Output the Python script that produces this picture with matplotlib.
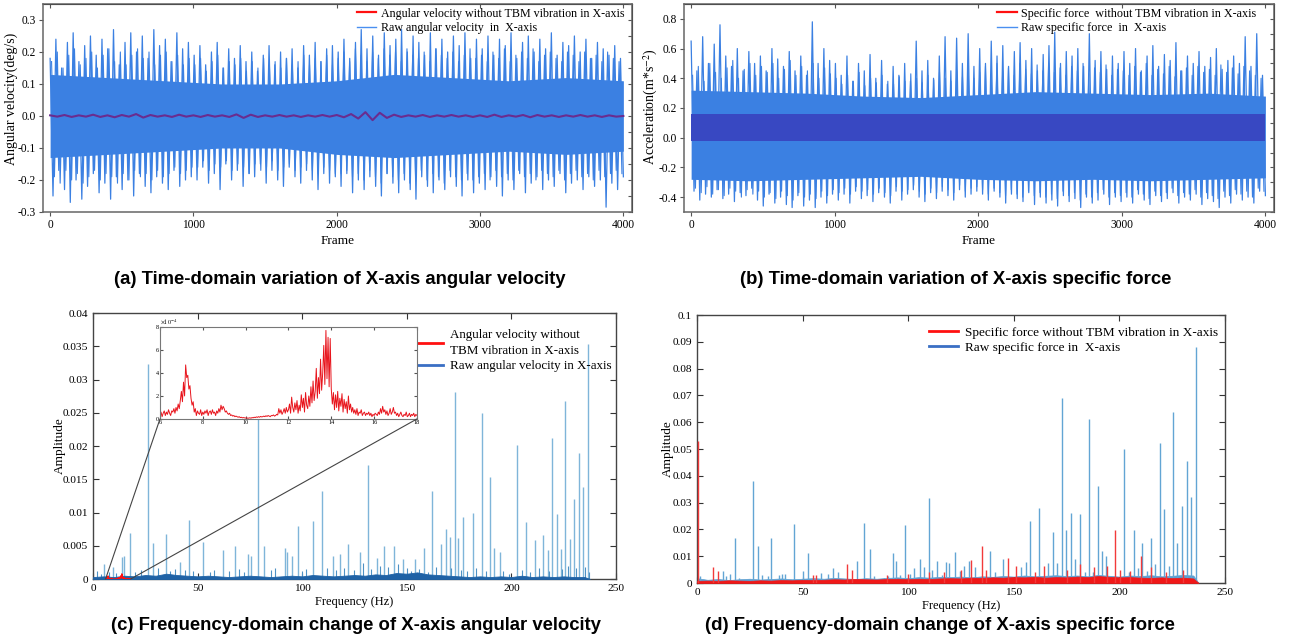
import numpy as np
import matplotlib.pyplot as plt
from matplotlib.lines import Line2D
from matplotlib.patches import ConnectionPatch
from matplotlib.ticker import FuncFormatter, MultipleLocator

plt.rcParams['font.family'] = ['Liberation Serif', 'DejaVu Serif']
plt.rcParams['mathtext.fontset'] = 'stix'
plt.rcParams['axes.unicode_minus'] = False

# ---- (a) angular velocity, time domain (peaks / troughs) ----
peaks_a = [0.18, 0.24, 0.15, 0.23, 0.26, 0.17, 0.22, 0.25, 0.19, 0.24, 0.21, 0.27, 0.16, 0.23, 0.26, 0.20, 0.25, 0.18, 0.27, 0.22, 0.24, 0.17, 0.26, 0.21, 0.23,
           0.19, 0.22, 0.16, 0.20, 0.23, 0.15, 0.21, 0.18, 0.22, 0.17, 0.20, 0.14, 0.19, 0.22, 0.16, 0.20, 0.18, 0.21, 0.15, 0.22, 0.19, 0.23, 0.17, 0.21, 0.22,
           0.20, 0.24, 0.18, 0.23, 0.27, 0.21, 0.25, 0.19, 0.26, 0.22, 0.24, 0.27, 0.20, 0.25, 0.23, 0.19, 0.26, 0.21, 0.24, 0.20, 0.25, 0.22, 0.26, 0.18, 0.24,
           0.21, 0.25, 0.19, 0.24, 0.22, 0.26, 0.18, 0.23, 0.25, 0.20, 0.24, 0.21, 0.26, 0.19, 0.23, 0.22, 0.25, 0.20, 0.24, 0.18, 0.23, 0.21, 0.19, 0.22, 0.18]
troughs_a = [-0.25, -0.17, -0.23, -0.27, -0.20, -0.26, -0.22, -0.18, -0.24, -0.21, -0.26, -0.19, -0.23, -0.20, -0.25, -0.18, -0.22, -0.24, -0.19, -0.21, -0.23, -0.17, -0.22, -0.20, -0.19,
             -0.20, -0.16, -0.21, -0.18, -0.23, -0.15, -0.20, -0.17, -0.22, -0.18, -0.19, -0.15, -0.21, -0.17, -0.20, -0.22, -0.16, -0.19, -0.21, -0.17, -0.20, -0.23, -0.18, -0.21, -0.19,
             -0.22, -0.18, -0.24, -0.20, -0.23, -0.19, -0.22, -0.25, -0.18, -0.21, -0.24, -0.20, -0.23, -0.26, -0.19, -0.22, -0.24, -0.20, -0.23, -0.19, -0.22, -0.25, -0.20, -0.24, -0.21,
             -0.23, -0.19, -0.22, -0.25, -0.20, -0.23, -0.18, -0.24, -0.21, -0.19, -0.23, -0.20, -0.22, -0.18, -0.24, -0.21, -0.20, -0.23, -0.19, -0.22, -0.20, -0.285, -0.21, -0.23, -0.19]
mid_a_hi = [0.17, 0.20, 0.15, 0.19, 0.21, 0.16, 0.18, 0.20, 0.15, 0.19, 0.21, 0.17, 0.20, 0.16, 0.19, 0.21, 0.18, 0.20, 0.16, 0.19, 0.20, 0.17, 0.19, 0.16, 0.18,
            0.16, 0.18, 0.14, 0.17, 0.19, 0.15, 0.17, 0.16, 0.18, 0.14, 0.17, 0.15, 0.18, 0.16, 0.17, 0.15, 0.18, 0.16, 0.17, 0.19, 0.16, 0.18, 0.17, 0.19, 0.16,
            0.18, 0.20, 0.17, 0.21, 0.19, 0.17, 0.20, 0.18, 0.21, 0.19, 0.20, 0.17, 0.21, 0.19, 0.18, 0.20, 0.17, 0.21, 0.19, 0.18, 0.20, 0.17, 0.19, 0.21, 0.18,
            0.19, 0.17, 0.20, 0.18, 0.21, 0.17, 0.19, 0.20, 0.18, 0.21, 0.17, 0.19, 0.20, 0.18, 0.17, 0.20, 0.19, 0.17, 0.20, 0.18, 0.19, 0.17, 0.20, 0.18, 0.17]
mid_a_lo = [-0.19, -0.21, -0.17, -0.20, -0.18, -0.21, -0.19, -0.17, -0.20, -0.18, -0.19, -0.21, -0.18, -0.20, -0.17, -0.19, -0.18, -0.20, -0.17, -0.19, -0.18, -0.16, -0.18, -0.17, -0.16,
            -0.16, -0.14, -0.17, -0.15, -0.16, -0.14, -0.17, -0.15, -0.16, -0.18, -0.15, -0.17, -0.16, -0.14, -0.17, -0.16, -0.15, -0.17, -0.16, -0.15, -0.17, -0.18, -0.16, -0.17, -0.18,
            -0.18, -0.17, -0.19, -0.18, -0.20, -0.17, -0.19, -0.21, -0.18, -0.19, -0.20, -0.18, -0.21, -0.19, -0.17, -0.20, -0.18, -0.19, -0.21, -0.17, -0.19, -0.20, -0.18, -0.20, -0.19,
            -0.18, -0.20, -0.17, -0.19, -0.18, -0.20, -0.17, -0.19, -0.18, -0.20, -0.17, -0.18, -0.19, -0.17, -0.20, -0.18, -0.17, -0.19, -0.18, -0.20, -0.17, -0.19, -0.18, -0.17, -0.18]
core_frames = [0, 400, 800, 1200, 1600, 2000, 2400, 2800, 3200, 3600, 4000]
core_a_hi = [0.13, 0.12, 0.11, 0.10, 0.10, 0.11, 0.13, 0.12, 0.11, 0.12, 0.11]
core_a_lo = [-0.13, -0.12, -0.11, -0.10, -0.10, -0.12, -0.13, -0.12, -0.11, -0.12, -0.11]
filt_a = [0.002, -0.002, 0.003, -0.003, 0.002, -0.002, 0.004, -0.003, 0.002, -0.004, 0.003, -0.002, 0.006, -0.005, 0.003, -0.002, 0.002, -0.003, 0.004, -0.002,
          0.002, -0.003, 0.003, -0.002, 0.002, -0.003, 0.005, -0.006, 0.004, -0.003, 0.002, -0.002, 0.003, -0.002, 0.002, -0.003, 0.002, -0.002, 0.003, -0.002,
          0.003, -0.004, 0.006, -0.008, 0.012, -0.013, 0.010, -0.006, 0.004, -0.003, 0.002, -0.002, 0.003, -0.003, 0.002, -0.002, 0.003, -0.002, 0.002, -0.003,
          0.002, -0.003, 0.004, -0.003, 0.002, -0.002, 0.003, -0.004, 0.003, -0.002, 0.002, -0.003, 0.002, -0.002, 0.003, -0.002, 0.002, -0.003, 0.002, -0.002, 0.0]

# ---- (b) specific force, time domain ----
peaks_b = [0.65, 0.45, 0.68, 0.50, 0.63, 0.76, 0.55, 0.48, 0.60, 0.45, 0.58, 0.50, 0.55, 0.45, 0.60, 0.53, 0.48, 0.58, 0.45, 0.55, 0.42, 0.78, 0.50, 0.60, 0.52,
           0.50, 0.42, 0.55, 0.38, 0.50, 0.45, 0.56, 0.40, 0.52, 0.36, 0.48, 0.42, 0.50, 0.38, 0.65, 0.45, 0.52, 0.40, 0.55, 0.68, 0.45, 0.67, 0.50, 0.70, 0.48,
           0.60, 0.50, 0.65, 0.55, 0.62, 0.48, 0.58, 0.64, 0.52, 0.60, 0.45, 0.56, 0.62, 0.71, 0.50, 0.58, 0.55, 0.60, 0.48, 0.70, 0.52, 0.58, 0.46, 0.55, 0.50,
           0.58, 0.50, 0.60, 0.45, 0.55, 0.62, 0.48, 0.56, 0.52, 0.64, 0.45, 0.55, 0.50, 0.58, 0.48, 0.54, 0.60, 0.46, 0.52, 0.55, 0.50, 0.68, 0.48, 0.70, 0.42]
troughs_b = [-0.36, -0.42, -0.38, -0.40, -0.35, -0.41, -0.38, -0.43, -0.37, -0.39, -0.34, -0.42, -0.46, -0.38, -0.44, -0.40, -0.45, -0.47, -0.39, -0.46, -0.42, -0.47, -0.40, -0.44, -0.38,
             -0.42, -0.38, -0.44, -0.36, -0.41, -0.39, -0.43, -0.37, -0.40, -0.44, -0.36, -0.42, -0.38, -0.35, -0.40, -0.43, -0.37, -0.41, -0.36, -0.39, -0.42, -0.35, -0.40, -0.38, -0.36,
             -0.38, -0.42, -0.36, -0.40, -0.44, -0.38, -0.41, -0.43, -0.37, -0.45, -0.40, -0.44, -0.42, -0.46, -0.39, -0.43, -0.41, -0.47, -0.40, -0.44, -0.42, -0.38, -0.45, -0.40, -0.43,
             -0.40, -0.44, -0.38, -0.42, -0.45, -0.39, -0.43, -0.41, -0.37, -0.44, -0.40, -0.42, -0.38, -0.45, -0.41, -0.43, -0.47, -0.40, -0.44, -0.38, -0.42, -0.40, -0.44, -0.36, -0.39]
mid_b_hi = [0.42, 0.48, 0.38, 0.50, 0.44, 0.40, 0.47, 0.52, 0.40, 0.46, 0.50, 0.42, 0.48, 0.44, 0.50, 0.40, 0.46, 0.52, 0.42, 0.48, 0.45, 0.50, 0.40, 0.47, 0.43,
            0.40, 0.36, 0.42, 0.38, 0.44, 0.35, 0.40, 0.37, 0.42, 0.38, 0.36, 0.41, 0.38, 0.43, 0.40, 0.37, 0.42, 0.39, 0.44, 0.40, 0.38, 0.45, 0.41, 0.46, 0.40,
            0.44, 0.48, 0.42, 0.50, 0.45, 0.47, 0.42, 0.50, 0.46, 0.43, 0.49, 0.45, 0.50, 0.44, 0.47, 0.42, 0.48, 0.45, 0.50, 0.43, 0.47, 0.44, 0.49, 0.42, 0.46,
            0.45, 0.42, 0.48, 0.44, 0.50, 0.42, 0.46, 0.43, 0.48, 0.41, 0.45, 0.47, 0.42, 0.48, 0.44, 0.46, 0.42, 0.49, 0.44, 0.47, 0.43, 0.48, 0.45, 0.42, 0.40]
mid_b_lo = [-0.34, -0.37, -0.33, -0.38, -0.35, -0.39, -0.34, -0.36, -0.40, -0.35, -0.38, -0.36, -0.40, -0.37, -0.41, -0.36, -0.39, -0.42, -0.37, -0.40, -0.38, -0.41, -0.36, -0.39, -0.35,
            -0.37, -0.34, -0.38, -0.33, -0.36, -0.35, -0.38, -0.34, -0.37, -0.39, -0.33, -0.36, -0.35, -0.32, -0.36, -0.38, -0.34, -0.37, -0.33, -0.35, -0.37, -0.32, -0.36, -0.34, -0.33,
            -0.35, -0.38, -0.34, -0.37, -0.39, -0.35, -0.38, -0.40, -0.36, -0.39, -0.37, -0.40, -0.38, -0.41, -0.36, -0.39, -0.37, -0.42, -0.38, -0.40, -0.37, -0.35, -0.40, -0.37, -0.39,
            -0.37, -0.40, -0.35, -0.38, -0.41, -0.36, -0.39, -0.37, -0.34, -0.39, -0.37, -0.38, -0.35, -0.40, -0.37, -0.39, -0.41, -0.36, -0.39, -0.35, -0.38, -0.36, -0.40, -0.34, -0.36]
core_b_hi = [0.32, 0.31, 0.30, 0.28, 0.27, 0.29, 0.31, 0.30, 0.29, 0.30, 0.28]
core_b_lo = [-0.28, -0.29, -0.28, -0.27, -0.26, -0.28, -0.29, -0.28, -0.29, -0.28, -0.27]
band_b_hi = [0.16] * 11
band_b_lo = [-0.02] * 11

# ---- (c) angular velocity spectrum ----
spk_c_f = [5.3, 9.4, 13.7, 15.0, 17.8, 26.3, 28.7, 34.7, 41.6, 45.7, 52.4, 62.0, 67.9, 74.2, 75.3, 78.7, 81.6,
           91.8, 92.8, 95.0, 98.0, 105.0, 109.5, 114.6, 118.0, 122.0, 127.6, 131.6, 135.6, 139.0, 143.9, 148.0,
           154.0, 158.0, 162.0, 166.2, 168.7, 170.7, 173.0, 174.6, 177.0, 181.5, 185.8, 189.8, 191.8, 194.6,
           202.5, 206.8, 211.3, 215.3, 217.5, 219.6, 221.7, 223.6, 225.8, 228.0, 229.9, 232.5, 234.2, 236.6]
spk_c_a = [0.0022, 0.0018, 0.0033, 0.0035, 0.0069, 0.0323, 0.0054, 0.0068, 0.0025, 0.0089, 0.0056, 0.0044, 0.0049, 0.0038, 0.0035, 0.030, 0.0050,
           0.0047, 0.0040, 0.0034, 0.0080, 0.0087, 0.0133, 0.0034, 0.0038, 0.0053, 0.0040, 0.0171, 0.0031, 0.0049, 0.0050, 0.0030,
           0.0030, 0.0046, 0.0132, 0.0053, 0.0075, 0.0063, 0.0281, 0.0062, 0.0094, 0.0099, 0.0249, 0.0154, 0.0046, 0.0040,
           0.0201, 0.0085, 0.0059, 0.0066, 0.0044, 0.0212, 0.0098, 0.0045, 0.0268, 0.0060, 0.0120, 0.0190, 0.0139, 0.0354]
small_c_f = [2, 4, 7.5, 11, 20, 23, 31, 37, 39, 44, 48, 56, 58, 65, 70, 72, 85, 87, 100, 102, 112, 116, 120, 125, 129,
             133, 137, 141, 146, 150, 152, 156, 160, 164, 171, 176, 179, 183, 188, 196, 199, 205, 209, 213, 218, 224, 227, 231, 235, 237]
small_c_a = [0.0012, 0.0008, 0.0010, 0.0009, 0.0011, 0.0014, 0.0016, 0.0012, 0.0015, 0.0013, 0.0012, 0.0010, 0.0014, 0.0012, 0.0015, 0.0010, 0.0013,
             0.0016, 0.0012, 0.0015, 0.0016, 0.0014, 0.0017, 0.0013, 0.0024, 0.0015, 0.0019, 0.0018, 0.0022, 0.0016, 0.0012, 0.0015, 0.0011,
             0.0018, 0.0016, 0.0014, 0.0012, 0.0016, 0.0012, 0.0012, 0.0008, 0.0014, 0.0011, 0.0016, 0.0012, 0.0015, 0.0020, 0.0016, 0.0018, 0.0010]
floor_f = [0, 5, 10, 15, 20, 25, 30, 35, 40, 45, 50, 55, 60, 65, 70, 75, 80, 85, 90, 95, 100, 105, 110, 115,
           120, 125, 130, 135, 140, 145, 150, 155, 160, 165, 170, 175, 180, 185, 190, 195, 200, 205, 210, 215, 220, 225, 230, 235, 237.5]
floor_c_a = [0.0003, 0.0004, 0.0003, 0.0005, 0.0004, 0.0006, 0.0005, 0.0008, 0.0006, 0.0005, 0.0004, 0.0005,
             0.0004, 0.0003, 0.0004, 0.0005, 0.0004, 0.0003, 0.0004, 0.0005, 0.0004, 0.0006, 0.0005, 0.0004,
             0.0005, 0.0006, 0.0005, 0.0007, 0.0006, 0.0009, 0.0008, 0.0010, 0.0007, 0.0006, 0.0005, 0.0004,
             0.0003, 0.0004, 0.0003, 0.0004, 0.0003, 0.0005, 0.0003, 0.0004, 0.0003, 0.0004, 0.0003, 0.0003, 0.0]

# filtered angular velocity spectrum, 6-18 Hz, step 0.05 Hz, units of 1e-4
zoom_amp = [0.3, 0.6, 0.2, 0.5, 0.7, 0.3, 0.6, 0.4, 0.8, 0.5, 0.3, 0.7, 0.6, 0.9, 0.5, 1.0, 0.7, 1.3, 0.9, 1.6,
            2.4, 1.5, 3.2, 2.0, 4.7, 3.6, 3.8, 2.6, 2.9, 1.8, 1.2, 1.5, 0.6, 0.9, 0.3, 0.7, 0.5, 0.4, 0.8, 0.3,
            0.6, 0.4, 0.7, 0.5, 0.8, 0.3, 0.6, 0.7, 0.4, 0.8, 0.5, 0.6, 0.3, 0.7, 0.5, 0.9, 0.6, 1.2, 0.8, 1.1,
            0.9, 0.6, 0.7, 0.5, 0.4, 0.5, 0.3, 0.35, 0.25, 0.3, 0.2, 0.25, 0.2, 0.15, 0.2, 0.12, 0.15, 0.1, 0.12, 0.1,
            0.08, 0.1, 0.06, 0.08, 0.1, 0.07, 0.12, 0.1, 0.15, 0.12, 0.18, 0.14, 0.2, 0.15, 0.22, 0.18, 0.2, 0.25, 0.2, 0.28,
            0.22, 0.3, 0.25, 0.2, 0.3, 0.28, 0.35, 0.25, 0.3, 0.4, 0.35, 0.9, 0.5, 0.8, 0.4, 0.6, 0.9, 0.5, 1.0, 0.6,
            0.8, 1.3, 0.5, 1.9, 1.0, 0.6, 1.4, 0.8, 1.6, 0.5, 1.2, 0.7, 2.1, 1.0, 1.8, 0.6, 2.3, 1.2, 0.9, 2.0,
            1.1, 2.8, 1.4, 3.3, 1.6, 2.4, 4.4, 1.8, 3.6, 2.2, 5.2, 2.5, 4.0, 6.4, 3.0, 7.7, 3.5, 7.1, 2.8, 7.0,
            2.6, 1.3, 2.3, 0.8, 2.1, 1.0, 2.4, 0.7, 1.8, 1.1, 2.2, 0.6, 1.7, 0.9, 1.5, 0.5, 2.0, 0.8, 1.3, 0.6,
            1.0, 0.5, 0.8, 0.4, 0.9, 0.3, 0.6, 0.5, 0.8, 0.3, 0.5, 0.6, 0.3, 0.5, 0.4, 0.6, 0.3, 0.5, 0.2, 0.4,
            0.3, 0.5, 0.4, 0.3, 0.6, 0.4, 0.9, 0.5, 1.1, 0.6, 0.8, 0.4, 0.7, 0.3, 0.5, 0.9, 0.4, 0.6, 1.0, 0.5,
            0.6, 0.3, 0.5, 0.2, 0.4, 0.6, 0.3, 0.2, 0.4, 0.3, 0.6, 0.2, 0.3, 0.5, 0.2, 0.4, 0.3, 0.5, 0.2, 0.4, 0.3]

# ---- (d) specific force spectrum ----
spk_d_f = [1.3, 12.2, 13.8, 15.4, 18.2, 20, 26.5, 29, 30.8, 33.5, 35, 38.7, 40.2, 41.8, 46, 50, 52.8, 58.6, 61.9, 64.6, 67,
           75.7, 78.9, 81.8, 83.6, 88.4, 90.3, 92.7, 94.4, 96.3, 98.6, 101, 102.9, 105.5, 107.4, 109.7, 111.5, 113.7, 116,
           118.1, 119.5, 122.4, 124.4, 126.6, 128.7, 131.8, 138.9, 141, 145, 153.6, 156, 157.6, 162, 166.3, 168.7, 170.5,
           172.9, 174.8, 177, 179, 181.2, 183.5, 185.4, 187.5, 189.7, 191.6, 193.6, 202.3, 204.5, 206.7, 208.9, 210.8,
           213, 215, 216.8, 219.3, 221, 223.3, 225.3, 227.5, 229.6, 232.1, 233.8, 236.4]
spk_d_a = [0.0025, 0.0045, 0.0025, 0.0032, 0.0167, 0.0020, 0.0382, 0.0138, 0.0030, 0.0025, 0.0169, 0.0030, 0.0032, 0.0034, 0.0219, 0.0045, 0.0113, 0.0037, 0.0033, 0.0055, 0.0040,
           0.0083, 0.0225, 0.0128, 0.0025, 0.0020, 0.0025, 0.0113, 0.0081, 0.0030, 0.0217, 0.0032, 0.0055, 0.0090, 0.0060, 0.0316, 0.0050, 0.0082, 0.0030,
           0.0078, 0.0073, 0.0117, 0.0045, 0.0065, 0.0082, 0.0058, 0.0121, 0.0040, 0.0091, 0.0060, 0.0078, 0.0231, 0.0281, 0.0075, 0.0190, 0.0075,
           0.0689, 0.0198, 0.0260, 0.0088, 0.0258, 0.0040, 0.0612, 0.0040, 0.0363, 0.0121, 0.0100, 0.0501, 0.0040, 0.0198, 0.0055, 0.0148,
           0.0045, 0.0169, 0.0070, 0.0524, 0.0276, 0.0065, 0.0637, 0.0148, 0.0287, 0.0455, 0.0322, 0.0882]
red_d_f = [0.3, 7.4, 9.8, 54.7, 56.3, 71.1, 73.5, 90, 100, 110, 117, 125, 129.8, 134.8, 136.7, 147.3, 151.2, 160, 164.2,
           175, 181.2, 188, 194, 198, 200.2, 205, 210.3, 215, 222, 230]
red_d_a = [0.053, 0.0061, 0.0045, 0.0028, 0.0030, 0.0071, 0.0048, 0.0030, 0.0035, 0.0040, 0.0040, 0.0050, 0.0087, 0.0138, 0.0050, 0.0093, 0.0062, 0.0040, 0.0065,
           0.0050, 0.0072, 0.0060, 0.0065, 0.0198, 0.0050, 0.0045, 0.0100, 0.0060, 0.0040, 0.0050]
floor_d_blue = [0.0018, 0.0012, 0.0015, 0.0011, 0.0014, 0.0016, 0.0013, 0.0015, 0.0017, 0.0014, 0.0016, 0.0018,
                0.0016, 0.0019, 0.0017, 0.0015, 0.0018, 0.0016, 0.0019, 0.0021, 0.0018, 0.0022, 0.0020, 0.0023,
                0.0022, 0.0024, 0.0021, 0.0025, 0.0023, 0.0026, 0.0024, 0.0028, 0.0025, 0.0027, 0.0029, 0.0026,
                0.0028, 0.0025, 0.0030, 0.0027, 0.0024, 0.0028, 0.0026, 0.0029, 0.0025, 0.0027, 0.0030, 0.0028, 0.0]
floor_d_red = [0.0008, 0.0009, 0.0008, 0.0010, 0.0009, 0.0008, 0.0010, 0.0009, 0.0011, 0.0010, 0.0012, 0.0011,
               0.0012, 0.0014, 0.0013, 0.0015, 0.0014, 0.0013, 0.0015, 0.0016, 0.0014, 0.0016, 0.0015, 0.0017,
               0.0018, 0.0017, 0.0020, 0.0019, 0.0021, 0.0020, 0.0022, 0.0021, 0.0023, 0.0020, 0.0022, 0.0021,
               0.0024, 0.0022, 0.0026, 0.0023, 0.0021, 0.0022, 0.0020, 0.0019, 0.0021, 0.0018, 0.0020, 0.0017, 0.0]

captions = ["(a) Time-domain variation of X-axis angular velocity",
            "(b) Time-domain variation of X-axis specific force",
            "(c) Frequency-domain change of X-axis angular velocity",
            "(d) Frequency-domain change of X-axis specific force"]

BLUE_T = '#3b80e2'
RED = '#ff1010'


def zigzag(peaks, troughs):
    s = np.empty(len(peaks) * 2)
    s[0::2] = peaks
    s[1::2] = troughs
    return s


def style_time(ax, ylo, yhi, ystep, yminor):
    ax.set_xlim(-50, 4060)
    ax.set_ylim(ylo, yhi)
    ax.set_xticks([0, 1000, 2000, 3000, 4000])
    ax.yaxis.set_major_locator(MultipleLocator(ystep))
    ax.yaxis.set_major_formatter(FuncFormatter(lambda v, p: '%.1f' % v))
    ax.tick_params(labelsize=8.3, direction='out', length=3, pad=2, color='#555555')
    for s in ax.spines.values():
        s.set_color('#666666')
        s.set_linewidth(1.1)
    top = ax.secondary_xaxis('top')
    top.set_xticks([0, 1000, 2000, 3000, 4000])
    top.tick_params(direction='in', labeltop=False, length=3, color='#555555')
    right = ax.secondary_yaxis('right')
    right.yaxis.set_major_locator(MultipleLocator(yminor))
    right.tick_params(direction='in', labelright=False, length=3, color='#555555')
    ax.set_xlabel('Frame', fontsize=9.5, labelpad=3)


def style_freq(ax, ymax, ystep, pad):
    ax.set_xlim(0, 250)
    ax.set_ylim(0, ymax)
    ax.yaxis.set_major_locator(MultipleLocator(ystep))
    ax.yaxis.set_major_formatter(FuncFormatter(lambda v, p: '%g' % round(v, 4)))
    ax.xaxis.set_major_locator(MultipleLocator(50))
    ax.tick_params(labelsize=8.2, direction='in', length=4, top=True, right=True, color='#333333')
    for s in ax.spines.values():
        s.set_color('#444444')
        s.set_linewidth(1.0)
    ax.set_xlabel('Frequency (Hz)', fontsize=9, labelpad=2)
    ax.set_ylabel('Amplitude', fontsize=9.5, labelpad=pad)


fig = plt.figure(figsize=(12.9, 6.42), dpi=100)

# (a)
ax_a = fig.add_axes([0.0333, 0.6698, 0.4566, 0.324])
ax_a.fill_between(core_frames, core_a_lo, core_a_hi, color=BLUE_T, lw=0)
ax_a.plot(np.linspace(0, 4000, len(peaks_a) * 2), zigzag(peaks_a, troughs_a), color=BLUE_T, lw=0.9)
ax_a.plot(np.linspace(10, 3990, len(mid_a_hi) * 2), zigzag(mid_a_hi, mid_a_lo), color=BLUE_T, lw=0.8)
ax_a.plot(np.linspace(0, 4000, len(filt_a)), filt_a, color='#6a2c8f', lw=1.5, zorder=3)
style_time(ax_a, -0.3, 0.35, 0.1, 0.05)
ax_a.set_ylabel('Angular velocity(deg/s)', fontsize=10)
ax_a.yaxis.set_label_coords(-0.042, 0.543)
ax_a.legend([Line2D([], [], color=RED, lw=1.6), Line2D([], [], color='#4a8ff0', lw=1.0)],
            ['Angular velocity without TBM vibration in X-axis', 'Raw angular velocity  in  X-axis'],
            loc='upper right', bbox_to_anchor=(0.995, 1.006), frameon=False, fontsize=8.65, borderaxespad=0.0,
            handlelength=1.6, labelspacing=0.2, handletextpad=0.4)

# (b)
ax_b = fig.add_axes([0.5302, 0.6698, 0.4574, 0.324])
ax_b.fill_between(core_frames, core_b_lo, core_b_hi, color=BLUE_T, lw=0)
ax_b.plot(np.linspace(0, 4000, len(peaks_b) * 2), zigzag(peaks_b, troughs_b), color=BLUE_T, lw=0.9)
ax_b.plot(np.linspace(10, 3990, len(mid_b_hi) * 2), zigzag(mid_b_hi, mid_b_lo), color=BLUE_T, lw=0.8)
ax_b.fill_between(core_frames, band_b_lo, band_b_hi, color='#3848c2', lw=0, zorder=3)
style_time(ax_b, -0.5, 0.9, 0.2, 0.1)
ax_b.set_ylabel(r'Acceleration(m*s$^{-2}$)', fontsize=10)
ax_b.yaxis.set_label_coords(-0.040, 0.505)
ax_b.legend([Line2D([], [], color=RED, lw=1.6), Line2D([], [], color='#4a8ff0', lw=1.0)],
            ['Specific force  without TBM vibration in X-axis', 'Raw specific force  in  X-axis'],
            loc='upper right', bbox_to_anchor=(0.978, 1.006), frameon=False, fontsize=8.7, borderaxespad=0.0,
            handlelength=1.6, labelspacing=0.2, handletextpad=0.35)

# (c)
ax_c = fig.add_axes([0.0721, 0.0981, 0.4054, 0.4143])
zoom_f = np.linspace(6, 18, len(zoom_amp))
zoom_arr = np.array(zoom_amp)
ax_c.vlines(spk_c_f, 0, spk_c_a, color='#7fb5d9', lw=1.0)
ax_c.vlines(small_c_f, 0, small_c_a, color='#4d91c4', lw=0.8)
ax_c.fill_between(floor_f, 0, floor_c_a, color='#1f62a6', lw=0.6, zorder=3)
ax_c.plot(zoom_f, zoom_arr * 1e-4, color=RED, lw=0.8, zorder=4)
style_freq(ax_c, 0.04, 0.005, -2)
leg_c = ax_c.legend([Line2D([], [], color=RED, lw=2), Line2D([], [], color='#3a6fc4', lw=2)],
                    ['Angular velocity without\nTBM vibration in X-axis', 'Raw angular velocity in X-axis'],
                    loc='upper right', bbox_to_anchor=(1.005, 0.965), frameon=False, fontsize=9.4,
                    borderaxespad=0.1, handlelength=2.1, labelspacing=0.25, handletextpad=0.55)
for t in leg_c.get_texts():
    t.set_linespacing(1.45)

ax_in = fig.add_axes([0.124, 0.3474, 0.1992, 0.1433])
ax_in.plot(zoom_f, zoom_arr, color='#e8141c', lw=0.7)
ax_in.set_xlim(6, 18)
ax_in.set_ylim(0, 8)
ax_in.set_xticks([6, 8, 10, 12, 14, 16, 18])
ax_in.set_yticks([0, 2, 4, 6, 8])
ax_in.tick_params(labelsize=4.5, direction='in', length=2, top=True, right=True, pad=1, color='#555555')
for s in ax_in.spines.values():
    s.set_color('#777777')
    s.set_linewidth(0.8)
ax_in.text(0.0, 1.01, r'$\times10^{-4}$', transform=ax_in.transAxes, fontsize=4.5, va='bottom')
for xa, xb in [((0, 0), (6, 0)), ((1, 0), (18, 0))]:
    cp = ConnectionPatch(xyA=xa, coordsA=ax_in.transAxes, xyB=xb, coordsB=ax_c.transData,
                         color='#444444', lw=0.8)
    fig.add_artist(cp)

# (d)
ax_d = fig.add_axes([0.5403, 0.0919, 0.4093, 0.4174])
ax_d.fill_between(floor_f, 0, floor_d_blue, color='#5c9fd1', lw=0.5)
ax_d.vlines(spk_d_f, 0, spk_d_a, color='#62a5d4', lw=1.0)
ax_d.fill_between(floor_f, 0, floor_d_red, color='#f01818', lw=0.5, zorder=3)
ax_d.vlines(red_d_f, 0, red_d_a, color='#f23a3a', lw=1.0, zorder=3)
style_freq(ax_d, 0.1, 0.01, -1)
ax_d.legend([Line2D([], [], color=RED, lw=2), Line2D([], [], color='#3a6fc4', lw=2)],
            ['Specific force without TBM vibration in X-axis', 'Raw specific force in  X-axis'],
            loc='upper right', bbox_to_anchor=(1.0, 0.985), frameon=False, fontsize=9.5, borderaxespad=0.15,
            handlelength=2.2, labelspacing=0.25, handletextpad=0.5)

# captions
for (x, y), txt in zip([(0.263, 0.564), (0.741, 0.564), (0.276, 0.025), (0.729, 0.025)], captions):
    fig.text(x, y, txt, ha='center', va='center', fontsize=13.3, fontweight='bold',
             family=['Liberation Sans', 'DejaVu Sans'])

fig.savefig('out.png', dpi=100)
